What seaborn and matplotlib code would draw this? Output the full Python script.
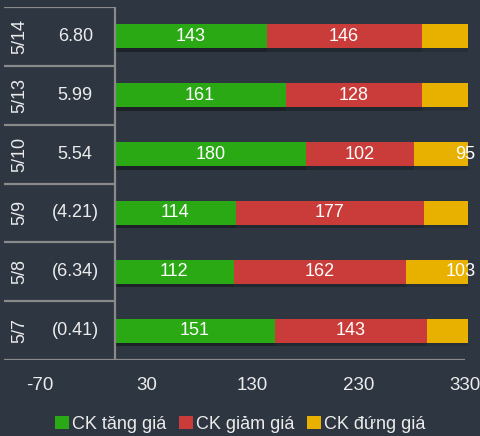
import numpy as np
import pandas as pd
import seaborn as sns
import matplotlib.pyplot as plt
import matplotlib.patheffects as pe
from matplotlib.patches import Patch

# data
dates = ["5/14", "5/13", "5/10", "5/9", "5/8", "5/7"]
index_change = [6.80, 5.99, 5.54, -4.21, -6.34, -0.41]
up = [143, 161, 180, 114, 112, 151]
down = [146, 128, 102, 177, 162, 143]
flat = [88, 88, 95, 86, 103, 83]
series_names = ["CK tăng giá", "CK giảm giá", "CK đứng giá"]
x_ticks = [-70, 30, 130, 230, 330]

bg = "#2e3641"
colors = ["#2aa915", "#c93c39", "#e8b100"]
line_c = "#8a8a8a"
txt_c = "#ececec"

sns.set_theme(style="white")
plt.rcParams["font.family"] = ["Liberation Sans", "DejaVu Sans"]

df = pd.DataFrame({"date": dates, "up": up, "down": down, "flat": flat})
df["cum_down"] = df["up"] + df["down"]
df["cum_flat"] = df["cum_down"] + df["flat"]

fig = plt.figure(figsize=(4.81, 4.36), dpi=100, facecolor=bg)
ax = fig.add_axes([4 / 481, 1 - 360 / 436, (468 - 4) / 481, (360 - 7) / 436])
ax.set_facecolor(bg)

# stacked look: draw cumulative totals from the back to the front
for col, color in zip(["cum_flat", "cum_down", "up"], colors[::-1]):
    sns.barplot(data=df, x=col, y="date", orient="h", order=dates, color=color,
                width=0.41, saturation=1, linewidth=0, errorbar=None, ax=ax)

# soft drop shadow under the bars
for p in ax.patches:
    p.set_path_effects([pe.SimplePatchShadow(offset=(0, -2.5), shadow_rgbFace="black", alpha=0.13),
                        pe.Normal()])

ax.set_xlim(-104, 332.5)
ax.set_ylim(5.5, -0.5)
lo, hi = ax.get_xlim()

# segment labels (hidden when the centre falls outside the plot, like the source)
for i in range(len(dates)):
    starts = [0, up[i], up[i] + down[i]]
    vals = [up[i], down[i], flat[i]]
    for s, v in zip(starts, vals):
        c = s + v / 2
        if c <= hi:
            ax.text(c, i, str(v), ha="center", va="center", color="white", fontsize=13)

# left table: date + index change
def fmt(v):
    return f"({abs(v):.2f})" if v < 0 else f"{v:.2f}"

for i, (d, v) in enumerate(zip(dates, index_change)):
    ax.text(-89, i, d, rotation=90, ha="center", va="center", color=txt_c, fontsize=13)
    ax.text(-37, i, fmt(v), ha="center", va="center", color=txt_c, fontsize=13)

ax.hlines(np.arange(-0.5, 5, 1), lo, 0, color=line_c, lw=1.6)
ax.hlines(5.5, lo, 330, color=line_c, lw=1.6)
ax.vlines(0, -0.5, 5.5, color=line_c, lw=1.6)

ax.set_xticks(x_ticks)
ax.set_xticklabels([str(t) for t in x_ticks])
ax.tick_params(axis="x", length=0, pad=12, labelsize=13.5, labelcolor=txt_c)
ax.set_yticks([])
ax.set_xlabel("")
ax.set_ylabel("")
sns.despine(ax=ax, left=True, bottom=True)

handles = [Patch(facecolor=c, edgecolor="none") for c in colors]
fig.legend(handles, series_names, loc="center", bbox_to_anchor=(0.5, 1 - 424 / 436),
           ncol=3, frameon=False, handlelength=0.75, handleheight=0.75,
           handletextpad=0.2, columnspacing=0.7, fontsize=13, labelcolor=txt_c)

fig.savefig("out.png", dpi=100, facecolor=bg)
